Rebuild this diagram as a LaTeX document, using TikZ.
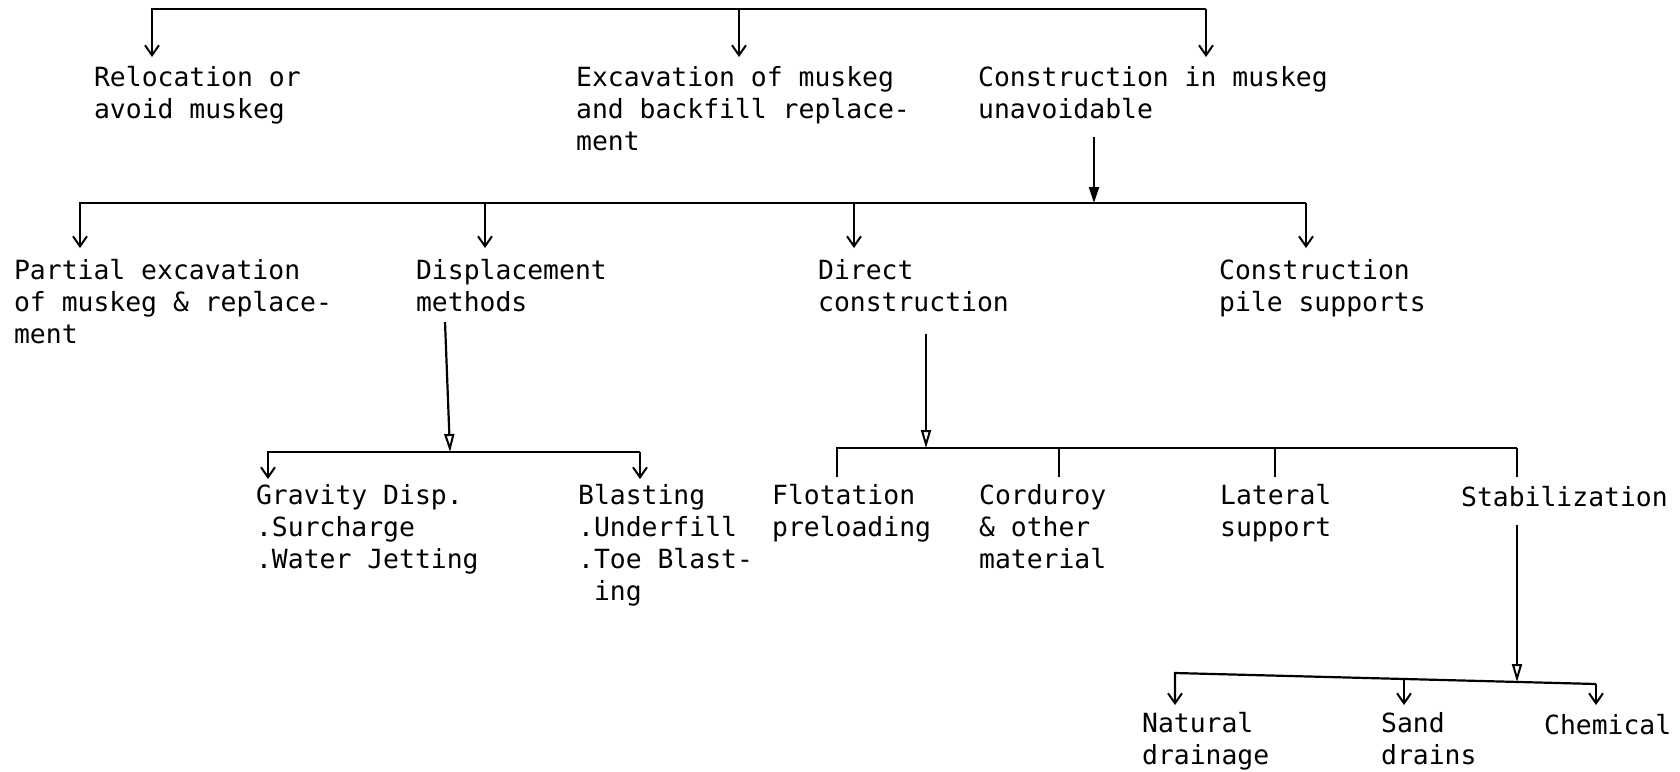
\documentclass[tikz,border=0pt]{standalone}
\usepackage{fontspec}
\newfontfamily\typewriter{DejaVu Sans Mono}
\usetikzlibrary{arrows.meta}
\begin{document}
\begin{tikzpicture}[x=0.5pt,y=-0.5pt,
  line width=1.1pt,
  lbl/.style={anchor=north west, inner sep=0pt, align=left,
    font=\typewriter\fontsize{13.2}{16}\selectfont, execute at begin node=\strut},
  barb/.style={-{Straight Barb[length=5pt,width=7pt,line width=1pt]}},
  solidtip/.style={-{Triangle[length=8pt,width=5pt]}},
  opentip/.style={-{Triangle[open,length=9pt,width=5pt,line width=1pt]}},
]
\useasboundingbox (0,0) rectangle (1680,771);

% ---- labels ----
\node[lbl] (reloc)   at (93,65)    {Relocation or\\avoid muskeg};
\node[lbl] (excav)   at (575,65)   {Excavation of muskeg\\and backfill replace-\\ment};
\node[lbl] (unav)    at (977,65)   {Construction in muskeg\\unavoidable};
\node[lbl] (partial) at (13,258)   {Partial excavation\\of muskeg \& replace-\\ment};
\node[lbl] (displ)   at (415,258)  {Displacement\\methods};
\node[lbl] (direct)  at (817,258)  {Direct\\construction};
\node[lbl] (pile)    at (1218,258) {Construction\\pile supports};
\node[lbl] (grav)    at (255,483)  {Gravity Disp.\\.Surcharge\\.Water Jetting};
\node[lbl] (blast)   at (577,483)  {Blasting\\.Underfill\\.Toe Blast-\\\phantom{.}ing};
\node[lbl] (flot)    at (771,483)  {Flotation\\preloading};
\node[lbl] (cord)    at (978,483)  {Corduroy\\\& other\\material};
\node[lbl] (lat)     at (1219,483) {Lateral\\support};
\node[lbl] (stab)    at (1460,483) {Stabilization};
\node[lbl] (nat)     at (1141,711) {Natural\\drainage};
\node[lbl] (sand)    at (1380,711) {Sand\\drains};
\node[lbl] (chem)    at (1543,711) {Chemical};

% ---- level 1 ----
\coordinate (b1l) at (152,9);
\coordinate (b1m) at (739,9);
\coordinate (b1r) at (1206,9);
\draw[barb, shorten >=4pt] (b1r) -- (b1l) -- (b1l |- reloc.north);
\draw[barb, shorten >=4pt] (b1m) -- (b1m |- excav.north);
\draw[barb, shorten >=4pt] (b1r) -- (b1r |- unav.north);

% ---- level 2 ----
\coordinate (b2l) at (80,203);
\coordinate (b2j) at (1094,203);
\coordinate (b2a) at (485,203);
\coordinate (b2b) at (854,203);
\coordinate (b2r) at (1306,203);
\draw[solidtip, shorten <=4pt] (b2j |- unav.south) -- (b2j);
\draw[barb, shorten >=5pt] (b2r) -- (b2l) -- (b2l |- partial.north);
\draw[barb, shorten >=5pt] (b2a) -- (b2a |- displ.north);
\draw[barb, shorten >=5pt] (b2b) -- (b2b |- direct.north);
\draw[barb, shorten >=5pt] (b2r) -- (b2r |- pile.north);

% ---- displacement methods ----
\coordinate (b3l) at (268,452);
\coordinate (b3j) at (450,452);
\coordinate (b3r) at (640,452);
\draw[opentip] (445,0 |- displ.south) -- (b3j);
\draw[barb, shorten >=2pt] (b3r) -- (b3l) -- (b3l |- grav.north);
\draw[barb, shorten >=2pt] (b3r) -- (b3r |- blast.north);

% ---- direct construction ----
\coordinate (b4l) at (837,448);
\coordinate (b4j) at (926,448);
\coordinate (b4a) at (1059,448);
\coordinate (b4b) at (1275,448);
\coordinate (b4r) at (1517,448);
\draw[opentip, shorten <=6pt] (b4j |- direct.south) -- (b4j);
\draw[shorten >=3pt] (b4r) -- (b4l) -- (b4l |- flot.north);
\draw[shorten >=3pt] (b4a) -- (b4a |- cord.north);
\draw[shorten >=3pt] (b4b) -- (b4b |- lat.north);
\draw[shorten >=3pt] (b4r) -- (b4r |- stab.north);

% ---- stabilization ----
\coordinate (b5l) at (1175,673);
\coordinate (b5m) at (1404,679);
\coordinate (b5j) at (1517,682);
\coordinate (b5r) at (1596,684);
\draw[opentip, shorten <=4pt] (b5j |- stab.south) -- (b5j);
\draw[barb, shorten >=3pt] (b5r) -- (b5l) -- (b5l |- nat.north);
\draw[barb, shorten >=3pt] (b5m) -- (b5m |- sand.north);
\draw[barb, shorten >=3pt] (b5r) -- (b5r |- chem.north);
\end{tikzpicture}
\end{document}
